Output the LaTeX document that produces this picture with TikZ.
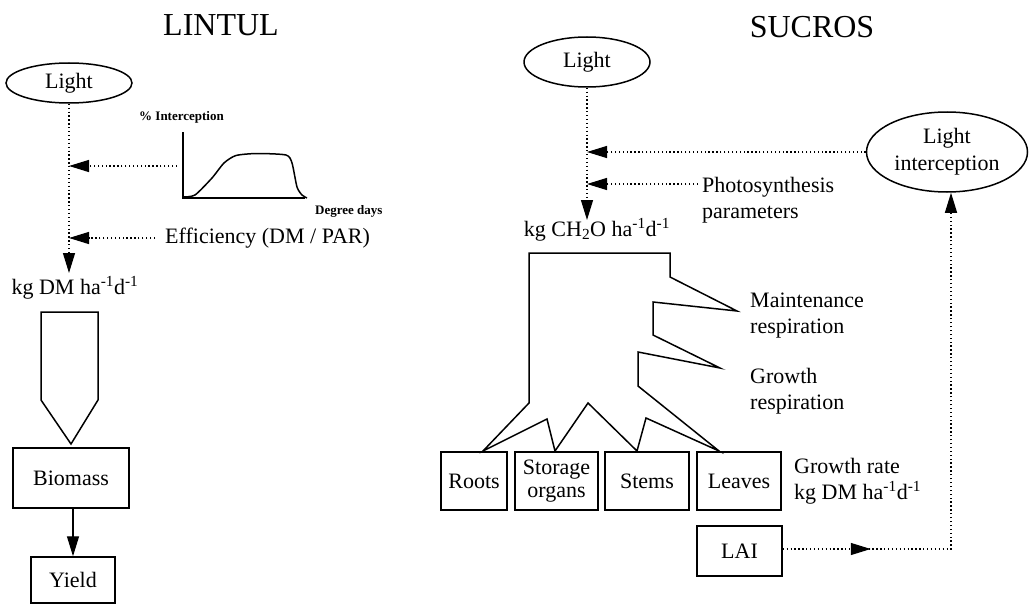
\documentclass[tikz,border=0pt]{standalone}
\usepackage{fontspec}
\setmainfont{Liberation Serif}
\usetikzlibrary{arrows.meta,shapes.geometric,decorations.markings}
\begin{document}
\begin{tikzpicture}[x=1pt,y=-1pt,
  lbl/.style={font=\fontsize{22}{26}\selectfont, inner sep=0pt, align=left},
  ttl/.style={font=\fontsize{32}{36}\selectfont, inner sep=0pt},
  small/.style={font=\fontsize{13}{15}\selectfont\bfseries, inner sep=0pt},
  box/.style={draw, line width=1.5pt, inner sep=0pt, font=\fontsize{22}{24}\selectfont, align=center},
  oval/.style={draw, ellipse, line width=1.5pt, inner sep=0pt, font=\fontsize{22}{27}\selectfont, align=center},
  dotl/.style={line width=1.3pt, dash pattern=on 1.3pt off 2.6pt},
  tip/.style={-{Triangle[length=20pt,width=12pt]}},
  solidl/.style={line width=1.5pt, line join=miter}
]
\useasboundingbox (0,0) rectangle (1032,607);

% ---------------- LINTUL ----------------
\node[ttl] (t1) at (221,25) {LINTUL};
\node[oval, minimum width=126pt, minimum height=40pt] (LLight) at (69,83) {Light};
\coordinate (lt) at (69,273);
\coordinate (la) at (69,166);
\coordinate (lb) at (69,238);
\coordinate (ga) at (177,166);
\coordinate (eb) at (155,238);
\draw[dotl,tip] (LLight.south) -- (lt);
\draw[dotl,tip] (ga) -- (la);

% interception graph
\draw[solidl] (183,132) -- (183,198) -- (305,198);
\draw[solidl] plot[smooth, tension=0.4] coordinates {(183,197) (195,195) (212,178) (224,163) (236,155.5) (257,153.5) (286,155) (292,163) (297,187) (302,195) (307,198)};
\node[small, anchor=west] (pi) at (139,117) {\% Interception};
\node[small, anchor=west] (dd) at (315,211) {Degree days};

\node[lbl, anchor=west] (eff) at (165,238) {Efficiency (DM / PAR)};
\draw[dotl,tip] (eb) -- (lb);

\node[lbl] (kg1) at (75,288) {kg DM ha\textsuperscript{-1}d\textsuperscript{-1}};

\draw[solidl] (41,312) -- (98,312) -- (98,400) -- (71,444) -- (41,400) -- cycle;
\node[box, minimum width=116pt, minimum height=60pt] (bio) at (71,478) {Biomass};
\node[box, minimum width=84pt, minimum height=46pt] (yld) at (73,580) {Yield};
\draw[line width=1.3pt, tip] (bio.south -| yld.north) -- (yld.north);

% ---------------- SUCROS ----------------
\node[ttl] (t2) at (812,27) {SUCROS};
\node[oval, minimum width=126pt, minimum height=50pt] (SLight) at (587,62) {Light};
\node[oval, minimum width=161pt, minimum height=80pt] (LInt) at (947,152) {Light\\interception};
\coordinate (st) at (587,220);
\coordinate (s1) at (587,152);
\coordinate (s2) at (587,184);
\coordinate (p2) at (698,184);
\draw[dotl,tip] (SLight.south) -- (st);
\draw[dotl,tip] (LInt.west) -- (s1);
\draw[dotl,tip] (p2) -- (s2);
\node[lbl, anchor=west] (photo) at (702,200) {Photosynthesis\\parameters};

\node[lbl] (kg2) at (597,230) {kg CH\textsubscript{2}O ha\textsuperscript{-1}d\textsuperscript{-1}};

% tree
\draw[solidl] (529,253) -- (670,253) -- (670,277) -- (737,311) -- (653,302) -- (653,335)
  -- (720,368) -- (638,352) -- (638,386) -- (719,451) -- (646,418) -- (637,451)
  -- (588,403) -- (555,451) -- (547,419) -- (483,451) -- (529,403) -- cycle;

\node[lbl, anchor=west] (mr) at (750,316) {Maintenance\\respiration};
\node[lbl, anchor=west] (gr) at (750,391) {Growth\\respiration};

\node[box, minimum width=66pt, minimum height=58pt] (roots) at (474,481) {Roots};
\node[box, minimum width=83pt, minimum height=58pt, font=\fontsize{22}{23}\selectfont] (stor) at (556.5,481) {Storage\\organs};
\node[box, minimum width=84pt, minimum height=58pt] (stems) at (647,481) {Stems};
\node[box, minimum width=84pt, minimum height=58pt] (leaves) at (739,481) {Leaves};
\node[lbl, anchor=west] (grate) at (794,481) {Growth rate\\kg DM ha\textsuperscript{-1}d\textsuperscript{-1}};

\node[box, minimum width=85pt, minimum height=50pt] (lai) at (739.5,551) {LAI};
\coordinate (corner) at (951,549);
\draw[dotl, -{Triangle[length=20pt,width=12pt]},
  decoration={markings, mark=at position 88pt with {\arrow{Triangle[length=20pt,width=12pt]}}},
  postaction={decorate}] (lai.east |- corner) -- (corner) -- (LInt.south -| corner);
\end{tikzpicture}
\end{document}
